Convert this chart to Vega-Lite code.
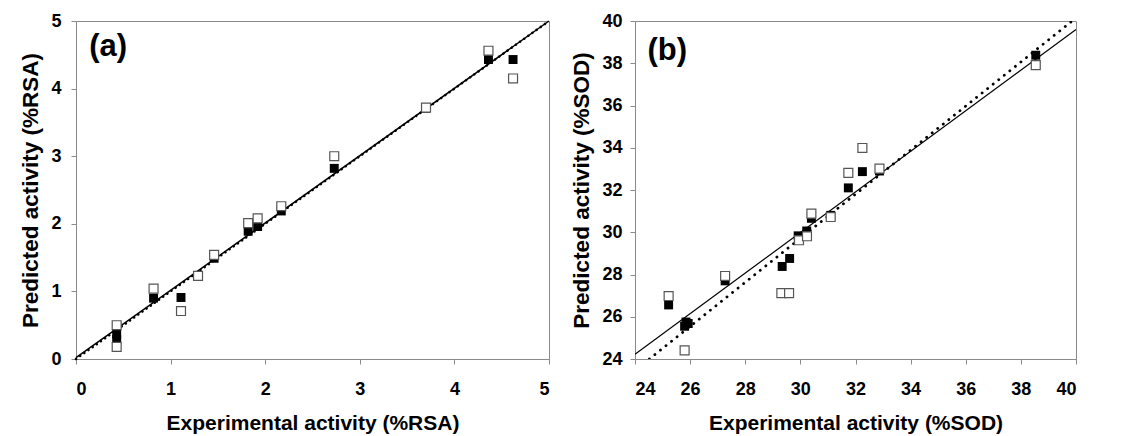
{
  "$schema": "https://vega.github.io/schema/vega-lite/v6.json",
  "background": "white",
  "padding": {"left": 19, "top": 11, "right": 40, "bottom": 0},
  "spacing": 15,
  "config": {
    "font": "Liberation Sans",
    "view": {"stroke": "#8a8a8a", "strokeWidth": 1},
    "axis": {
      "grid": false,
      "domainColor": "#8a8a8a",
      "tickColor": "#8a8a8a",
      "tickSize": 5,
      "labelFont": "Liberation Sans",
      "labelFontSize": 18,
      "labelFontWeight": "bold",
      "labelColor": "black",
      "format": "d",
      "titleFont": "Liberation Sans",
      "titleFontWeight": "bold",
      "titleColor": "black"
    },
    "axisX": {"titleFontSize": 21, "labelPadding": 16, "titlePadding": 14},
    "axisY": {"titleFontSize": 22.5, "labelPadding": 8, "titlePadding": 8}
  },
  "datasets": {
    "ptsA": [
      {"exp": 0.43, "pred": 0.29, "set": "filled"},
      {"exp": 0.43, "pred": 0.37, "set": "filled"},
      {"exp": 0.82, "pred": 0.90, "set": "filled"},
      {"exp": 1.11, "pred": 0.91, "set": "filled"},
      {"exp": 1.29, "pred": 1.22, "set": "filled"},
      {"exp": 1.46, "pred": 1.49, "set": "filled"},
      {"exp": 1.82, "pred": 1.89, "set": "filled"},
      {"exp": 1.92, "pred": 1.96, "set": "filled"},
      {"exp": 2.17, "pred": 2.19, "set": "filled"},
      {"exp": 2.73, "pred": 2.82, "set": "filled"},
      {"exp": 3.70, "pred": 3.71, "set": "filled"},
      {"exp": 4.36, "pred": 4.43, "set": "filled"},
      {"exp": 4.62, "pred": 4.43, "set": "filled"},
      {"exp": 0.43, "pred": 0.50, "set": "open"},
      {"exp": 0.43, "pred": 0.18, "set": "open"},
      {"exp": 0.82, "pred": 1.04, "set": "open"},
      {"exp": 1.11, "pred": 0.71, "set": "open"},
      {"exp": 1.29, "pred": 1.23, "set": "open"},
      {"exp": 1.46, "pred": 1.54, "set": "open"},
      {"exp": 1.82, "pred": 2.01, "set": "open"},
      {"exp": 1.92, "pred": 2.08, "set": "open"},
      {"exp": 2.17, "pred": 2.26, "set": "open"},
      {"exp": 2.73, "pred": 3.00, "set": "open"},
      {"exp": 3.70, "pred": 3.72, "set": "open"},
      {"exp": 4.36, "pred": 4.56, "set": "open"},
      {"exp": 4.62, "pred": 4.15, "set": "open"}
    ],
    "ptsB": [
      {"exp": 25.22, "pred": 26.56, "set": "filled"},
      {"exp": 25.80, "pred": 25.55, "set": "filled"},
      {"exp": 25.93, "pred": 25.68, "set": "filled"},
      {"exp": 25.85, "pred": 25.75, "set": "filled"},
      {"exp": 27.27, "pred": 27.70, "set": "filled"},
      {"exp": 29.34, "pred": 28.38, "set": "filled"},
      {"exp": 29.61, "pred": 28.76, "set": "filled"},
      {"exp": 29.92, "pred": 29.83, "set": "filled"},
      {"exp": 30.23, "pred": 30.06, "set": "filled"},
      {"exp": 30.40, "pred": 30.66, "set": "filled"},
      {"exp": 31.10, "pred": 30.80, "set": "filled"},
      {"exp": 31.74, "pred": 32.10, "set": "filled"},
      {"exp": 32.25, "pred": 32.87, "set": "filled"},
      {"exp": 32.87, "pred": 32.90, "set": "filled"},
      {"exp": 38.54, "pred": 38.38, "set": "filled"},
      {"exp": 25.22, "pred": 26.98, "set": "open"},
      {"exp": 25.80, "pred": 24.41, "set": "open"},
      {"exp": 27.27, "pred": 27.93, "set": "open"},
      {"exp": 29.31, "pred": 27.12, "set": "open"},
      {"exp": 29.59, "pred": 27.12, "set": "open"},
      {"exp": 29.95, "pred": 29.62, "set": "open"},
      {"exp": 30.24, "pred": 29.81, "set": "open"},
      {"exp": 30.40, "pred": 30.88, "set": "open"},
      {"exp": 31.10, "pred": 30.72, "set": "open"},
      {"exp": 31.74, "pred": 32.81, "set": "open"},
      {"exp": 32.25, "pred": 33.99, "set": "open"},
      {"exp": 32.87, "pred": 33.01, "set": "open"},
      {"exp": 38.54, "pred": 37.91, "set": "open"}
    ],
    "lineA": [
      {"exp": 0, "pred": 0.02, "fit": "solid"},
      {"exp": 5, "pred": 5.0, "fit": "solid"},
      {"exp": 0, "pred": 0.0, "fit": "dotted"},
      {"exp": 5, "pred": 5.0, "fit": "dotted"}
    ],
    "lineB": [
      {"exp": 24, "pred": 24.22, "fit": "solid"},
      {"exp": 40, "pred": 39.6, "fit": "solid"},
      {"exp": 24.52, "pred": 24.0, "fit": "dotted"},
      {"exp": 39.86, "pred": 40.0, "fit": "dotted"}
    ],
    "labA": [{"exp": 0.14, "pred": 4.62, "txt": "(a)"}],
    "labB": [{"exp": 24.45, "pred": 38.56, "txt": "(b)"}]
  },
  "hconcat": [
    {
      "width": 473,
      "height": 338,
      "layer": [
        {
          "data": {"name": "lineA"},
          "transform": [{"filter": "datum.fit === 'solid'"}],
          "mark": {"type": "line", "color": "black", "strokeWidth": 1.5},
          "encoding": {
            "x": {"field": "exp", "type": "quantitative", "scale": {"domain": [0, 5], "nice": false}, "axis": {"values": [0, 1, 2, 3, 4, 5], "title": "Experimental activity (%RSA)"}},
            "y": {"field": "pred", "type": "quantitative", "scale": {"domain": [0, 5], "nice": false}, "axis": {"values": [0, 1, 2, 3, 4, 5], "title": "Predicted activity (%RSA)", "labelPadding": 10}}
          }
        },
        {
          "data": {"name": "lineA"},
          "transform": [{"filter": "datum.fit === 'dotted'"}],
          "mark": {"type": "line", "color": "black", "strokeWidth": 2.5, "strokeDash": [0.1, 5], "strokeCap": "round"},
          "encoding": {
            "x": {"field": "exp", "type": "quantitative"},
            "y": {"field": "pred", "type": "quantitative"}
          }
        },
        {
          "data": {"name": "ptsA"},
          "transform": [{"filter": "datum.set === 'filled'"}],
          "mark": {"type": "square", "size": 80, "filled": true, "color": "black", "opacity": 1},
          "encoding": {
            "x": {"field": "exp", "type": "quantitative"},
            "y": {"field": "pred", "type": "quantitative"}
          }
        },
        {
          "data": {"name": "ptsA"},
          "transform": [{"filter": "datum.set === 'open'"}],
          "mark": {"type": "square", "size": 80, "filled": true, "fill": "white", "stroke": "#555555", "strokeWidth": 1.2, "opacity": 1},
          "encoding": {
            "x": {"field": "exp", "type": "quantitative"},
            "y": {"field": "pred", "type": "quantitative"}
          }
        },
        {
          "data": {"name": "labA"},
          "mark": {"type": "text", "align": "left", "baseline": "middle", "font": "Liberation Sans", "fontWeight": "bold", "fontSize": 31, "color": "black"},
          "encoding": {
            "x": {"field": "exp", "type": "quantitative"},
            "y": {"field": "pred", "type": "quantitative"},
            "text": {"field": "txt"}
          }
        }
      ]
    },
    {
      "width": 441,
      "height": 338,
      "layer": [
        {
          "data": {"name": "lineB"},
          "transform": [{"filter": "datum.fit === 'solid'"}],
          "mark": {"type": "line", "color": "black", "strokeWidth": 1.2, "clip": true},
          "encoding": {
            "x": {"field": "exp", "type": "quantitative", "scale": {"domain": [24, 40], "nice": false, "zero": false}, "axis": {"values": [24, 26, 28, 30, 32, 34, 36, 38, 40], "title": "Experimental activity (%SOD)"}},
            "y": {"field": "pred", "type": "quantitative", "scale": {"domain": [24, 40], "nice": false, "zero": false}, "axis": {"values": [24, 26, 28, 30, 32, 34, 36, 38, 40], "title": "Predicted activity (%SOD)"}}
          }
        },
        {
          "data": {"name": "lineB"},
          "transform": [{"filter": "datum.fit === 'dotted'"}],
          "mark": {"type": "line", "color": "black", "strokeWidth": 2.8, "strokeDash": [0.1, 7], "strokeCap": "round", "clip": true},
          "encoding": {
            "x": {"field": "exp", "type": "quantitative"},
            "y": {"field": "pred", "type": "quantitative"}
          }
        },
        {
          "data": {"name": "ptsB"},
          "transform": [{"filter": "datum.set === 'filled'"}],
          "mark": {"type": "square", "size": 80, "filled": true, "color": "black", "opacity": 1},
          "encoding": {
            "x": {"field": "exp", "type": "quantitative"},
            "y": {"field": "pred", "type": "quantitative"}
          }
        },
        {
          "data": {"name": "ptsB"},
          "transform": [{"filter": "datum.set === 'open'"}],
          "mark": {"type": "square", "size": 80, "filled": true, "fill": "white", "stroke": "#555555", "strokeWidth": 1.2, "opacity": 1},
          "encoding": {
            "x": {"field": "exp", "type": "quantitative"},
            "y": {"field": "pred", "type": "quantitative"}
          }
        },
        {
          "data": {"name": "labB"},
          "mark": {"type": "text", "align": "left", "baseline": "middle", "font": "Liberation Sans", "fontWeight": "bold", "fontSize": 31, "color": "black"},
          "encoding": {
            "x": {"field": "exp", "type": "quantitative"},
            "y": {"field": "pred", "type": "quantitative"},
            "text": {"field": "txt"}
          }
        }
      ]
    }
  ]
}
